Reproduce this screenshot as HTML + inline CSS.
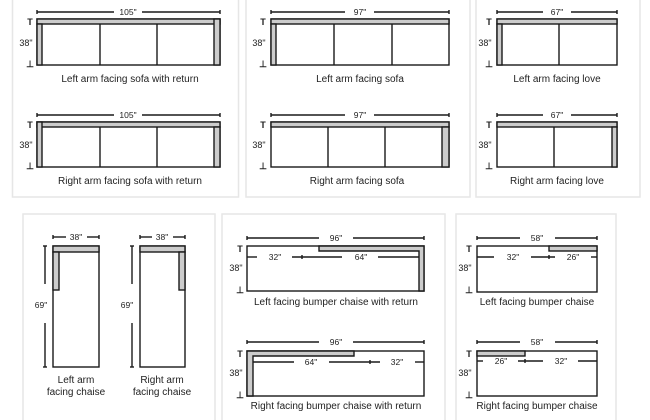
<!DOCTYPE html>
<html><head><meta charset="utf-8"><style>
html,body{margin:0;padding:0;background:#fff;}
svg{display:block;}
text{font-family:"Liberation Sans",sans-serif;fill:#222;}
.l{font-size:10px;text-anchor:middle;}
.d{font-size:8.5px;text-anchor:middle;}
.m{font-size:9px;text-anchor:middle;}
</style></head><body>
<svg width="650" height="420" viewBox="0 0 650 420" xmlns="http://www.w3.org/2000/svg">
<g fill="none" stroke="#e6e6e6" stroke-width="1.5">
<rect x="12.5" y="-5" width="226" height="202"/>
<rect x="246" y="-5" width="224" height="202"/>
<rect x="476" y="-5" width="164" height="202"/>
<rect x="23" y="214" width="192" height="220"/>
<rect x="222" y="214" width="223" height="220"/>
<rect x="456" y="214" width="160" height="220"/>
</g>

<g stroke="#1a1a1a" stroke-width="1.4">
<rect x="37" y="19" width="183" height="46" fill="#fff"/>
<rect x="37" y="19" width="183" height="5" fill="#ccc"/>
<rect x="37" y="24" width="5" height="41" fill="#ccc"/>
<rect x="214" y="19" width="6" height="46" fill="#ccc"/>
<line x1="100" y1="24" x2="100" y2="65"/><line x1="157" y1="24" x2="157" y2="65"/>
<line x1="37" y1="12" x2="114" y2="12"/><line x1="142" y1="12" x2="220" y2="12"/>
<line x1="37" y1="10" x2="37" y2="14"/><line x1="220" y1="10" x2="220" y2="14"/>
<rect x="37" y="122" width="183" height="45" fill="#fff"/>
<rect x="37" y="122" width="183" height="5" fill="#ccc"/>
<rect x="37" y="122" width="5" height="45" fill="#ccc"/>
<rect x="214" y="127" width="6" height="40" fill="#ccc"/>
<line x1="100" y1="127" x2="100" y2="167"/><line x1="157" y1="127" x2="157" y2="167"/>
<line x1="37" y1="115" x2="114" y2="115"/><line x1="142" y1="115" x2="220" y2="115"/>
<line x1="37" y1="113" x2="37" y2="117"/><line x1="220" y1="113" x2="220" y2="117"/>

<rect x="271" y="19" width="178" height="46" fill="#fff"/>
<rect x="271" y="19" width="178" height="5" fill="#ccc"/>
<rect x="271" y="24" width="5" height="41" fill="#ccc"/>
<line x1="334" y1="24" x2="334" y2="65"/><line x1="392" y1="24" x2="392" y2="65"/>
<line x1="271" y1="12" x2="345" y2="12"/><line x1="374" y1="12" x2="449" y2="12"/>
<line x1="271" y1="10" x2="271" y2="14"/><line x1="449" y1="10" x2="449" y2="14"/>
<rect x="271" y="122" width="178" height="45" fill="#fff"/>
<rect x="271" y="122" width="178" height="5" fill="#ccc"/>
<rect x="442" y="127" width="7" height="40" fill="#ccc"/>
<line x1="328" y1="127" x2="328" y2="167"/><line x1="385" y1="127" x2="385" y2="167"/>
<line x1="271" y1="115" x2="345" y2="115"/><line x1="374" y1="115" x2="449" y2="115"/>
<line x1="271" y1="113" x2="271" y2="117"/><line x1="449" y1="113" x2="449" y2="117"/>

<rect x="497" y="19" width="120" height="46" fill="#fff"/>
<rect x="497" y="19" width="120" height="5" fill="#ccc"/>
<rect x="497" y="24" width="5" height="41" fill="#ccc"/>
<line x1="559" y1="24" x2="559" y2="65"/>
<line x1="497" y1="12" x2="543" y2="12"/><line x1="571" y1="12" x2="617" y2="12"/>
<line x1="497" y1="10" x2="497" y2="14"/><line x1="617" y1="10" x2="617" y2="14"/>
<rect x="497" y="122" width="120" height="45" fill="#fff"/>
<rect x="497" y="122" width="120" height="5" fill="#ccc"/>
<rect x="612" y="127" width="5" height="40" fill="#ccc"/>
<line x1="554" y1="127" x2="554" y2="167"/>
<line x1="497" y1="115" x2="543" y2="115"/><line x1="571" y1="115" x2="617" y2="115"/>
<line x1="497" y1="113" x2="497" y2="117"/><line x1="617" y1="113" x2="617" y2="117"/>

<rect x="53" y="246" width="46" height="121" fill="#fff"/>
<rect x="53" y="246" width="46" height="6" fill="#ccc"/>
<rect x="53" y="252" width="6" height="38" fill="#ccc"/>
<line x1="53" y1="237" x2="66" y2="237"/><line x1="87" y1="237" x2="99" y2="237"/>
<line x1="53" y1="235" x2="53" y2="239"/><line x1="99" y1="235" x2="99" y2="239"/>
<line x1="45" y1="246" x2="45" y2="284"/><line x1="45" y1="323" x2="45" y2="367"/>
<line x1="43" y1="246" x2="47" y2="246"/><line x1="43" y1="367" x2="47" y2="367"/>
<rect x="140" y="246" width="45" height="121" fill="#fff"/>
<rect x="140" y="246" width="45" height="6" fill="#ccc"/>
<rect x="179" y="252" width="6" height="38" fill="#ccc"/>
<line x1="140" y1="237" x2="152" y2="237"/><line x1="173" y1="237" x2="185" y2="237"/>
<line x1="140" y1="235" x2="140" y2="239"/><line x1="185" y1="235" x2="185" y2="239"/>
<line x1="132" y1="246" x2="132" y2="284"/><line x1="132" y1="323" x2="132" y2="367"/>
<line x1="130" y1="246" x2="134" y2="246"/><line x1="130" y1="367" x2="134" y2="367"/>

<rect x="247" y="246" width="177" height="45" fill="#fff"/>
<path d="M319 246 H424 V291 H419 V251 H319 Z" fill="#ccc"/>
<line x1="247" y1="238" x2="319" y2="238"/><line x1="353" y1="238" x2="424" y2="238"/>
<line x1="247" y1="236" x2="247" y2="240"/><line x1="424" y1="236" x2="424" y2="240"/>
<line x1="247" y1="257" x2="257" y2="257"/><line x1="292" y1="257" x2="342" y2="257"/><line x1="302" y1="255" x2="302" y2="259"/><line x1="378" y1="257" x2="419" y2="257"/>
<rect x="247" y="351" width="177" height="45" fill="#fff"/>
<path d="M247 351 H354 V356 H253 V396 H247 Z" fill="#ccc"/>
<line x1="247" y1="342" x2="319" y2="342"/><line x1="353" y1="342" x2="424" y2="342"/>
<line x1="247" y1="340" x2="247" y2="344"/><line x1="424" y1="340" x2="424" y2="344"/>
<line x1="253" y1="362" x2="294" y2="362"/><line x1="329" y1="362" x2="380" y2="362"/><line x1="370" y1="360" x2="370" y2="364"/><line x1="415" y1="362" x2="424" y2="362"/>

<rect x="477" y="246" width="120" height="46" fill="#fff"/>
<rect x="549" y="246" width="48" height="5" fill="#ccc"/>
<line x1="477" y1="238" x2="520" y2="238"/><line x1="555" y1="238" x2="597" y2="238"/>
<line x1="477" y1="236" x2="477" y2="240"/><line x1="597" y1="236" x2="597" y2="240"/>
<line x1="477" y1="257" x2="494" y2="257"/><line x1="531" y1="257" x2="555" y2="257"/><line x1="549" y1="255" x2="549" y2="259"/><line x1="591" y1="257" x2="597" y2="257"/>
<rect x="477" y="351" width="120" height="45" fill="#fff"/>
<rect x="477" y="351" width="48" height="5" fill="#ccc"/>
<line x1="477" y1="342" x2="520" y2="342"/><line x1="555" y1="342" x2="597" y2="342"/>
<line x1="477" y1="340" x2="477" y2="344"/><line x1="597" y1="340" x2="597" y2="344"/>
<line x1="477" y1="361" x2="483" y2="361"/><line x1="518" y1="361" x2="543" y2="361"/><line x1="525" y1="359" x2="525" y2="363"/><line x1="578" y1="361" x2="597" y2="361"/>
</g>

<g class="m">
<text x="30" y="25" font-weight="bold">T</text><text x="26" y="46">38"</text><text x="30" y="67" font-weight="bold">⊥</text>
<text x="30" y="128" font-weight="bold">T</text><text x="26" y="148">38"</text><text x="30" y="169" font-weight="bold">⊥</text>
<text x="263" y="25" font-weight="bold">T</text><text x="259" y="46">38"</text><text x="263" y="67" font-weight="bold">⊥</text>
<text x="263" y="128" font-weight="bold">T</text><text x="259" y="148">38"</text><text x="263" y="169" font-weight="bold">⊥</text>
<text x="489" y="25" font-weight="bold">T</text><text x="485" y="46">38"</text><text x="489" y="67" font-weight="bold">⊥</text>
<text x="489" y="128" font-weight="bold">T</text><text x="485" y="148">38"</text><text x="489" y="169" font-weight="bold">⊥</text>
<text x="240" y="252" font-weight="bold">T</text><text x="236" y="271">38"</text><text x="240" y="293" font-weight="bold">⊥</text>
<text x="240" y="357" font-weight="bold">T</text><text x="236" y="376">38"</text><text x="240" y="398" font-weight="bold">⊥</text>
<text x="469" y="252" font-weight="bold">T</text><text x="465" y="271">38"</text><text x="469" y="293" font-weight="bold">⊥</text>
<text x="469" y="357" font-weight="bold">T</text><text x="465" y="376">38"</text><text x="469" y="398" font-weight="bold">⊥</text>
</g>

<g class="d">
<text x="128" y="15">105"</text><text x="128" y="118">105"</text>
<text x="360" y="15">97"</text><text x="360" y="118">97"</text>
<text x="557" y="15">67"</text><text x="557" y="118">67"</text>
<text x="76" y="240">38"</text><text x="162" y="240">38"</text>
<text x="41" y="308">69"</text><text x="127" y="308">69"</text>
<text x="336" y="241">96"</text><text x="275" y="260">32"</text><text x="361" y="260">64"</text>
<text x="336" y="345">96"</text><text x="311" y="365">64"</text><text x="397" y="365">32"</text>
<text x="537" y="241">58"</text><text x="513" y="260">32"</text><text x="573" y="260">26"</text>
<text x="537" y="345">58"</text><text x="501" y="364">26"</text><text x="561" y="364">32"</text>
</g>

<g class="l">
<text x="130" y="82">Left arm facing sofa with return</text>
<text x="130" y="184">Right arm facing sofa with return</text>
<text x="360" y="82">Left arm facing sofa</text>
<text x="357" y="184">Right arm facing sofa</text>
<text x="557" y="82">Left arm facing love</text>
<text x="557" y="184">Right arm facing love</text>
<text x="76" y="383">Left arm</text><text x="76" y="395">facing chaise</text>
<text x="162" y="383">Right arm</text><text x="162" y="395">facing chaise</text>
<text x="336" y="305">Left facing bumper chaise with return</text>
<text x="336" y="409">Right facing bumper chaise with return</text>
<text x="537" y="305">Left facing bumper chaise</text>
<text x="537" y="409">Right facing bumper chaise</text>
</g>
</svg>
</body></html>
